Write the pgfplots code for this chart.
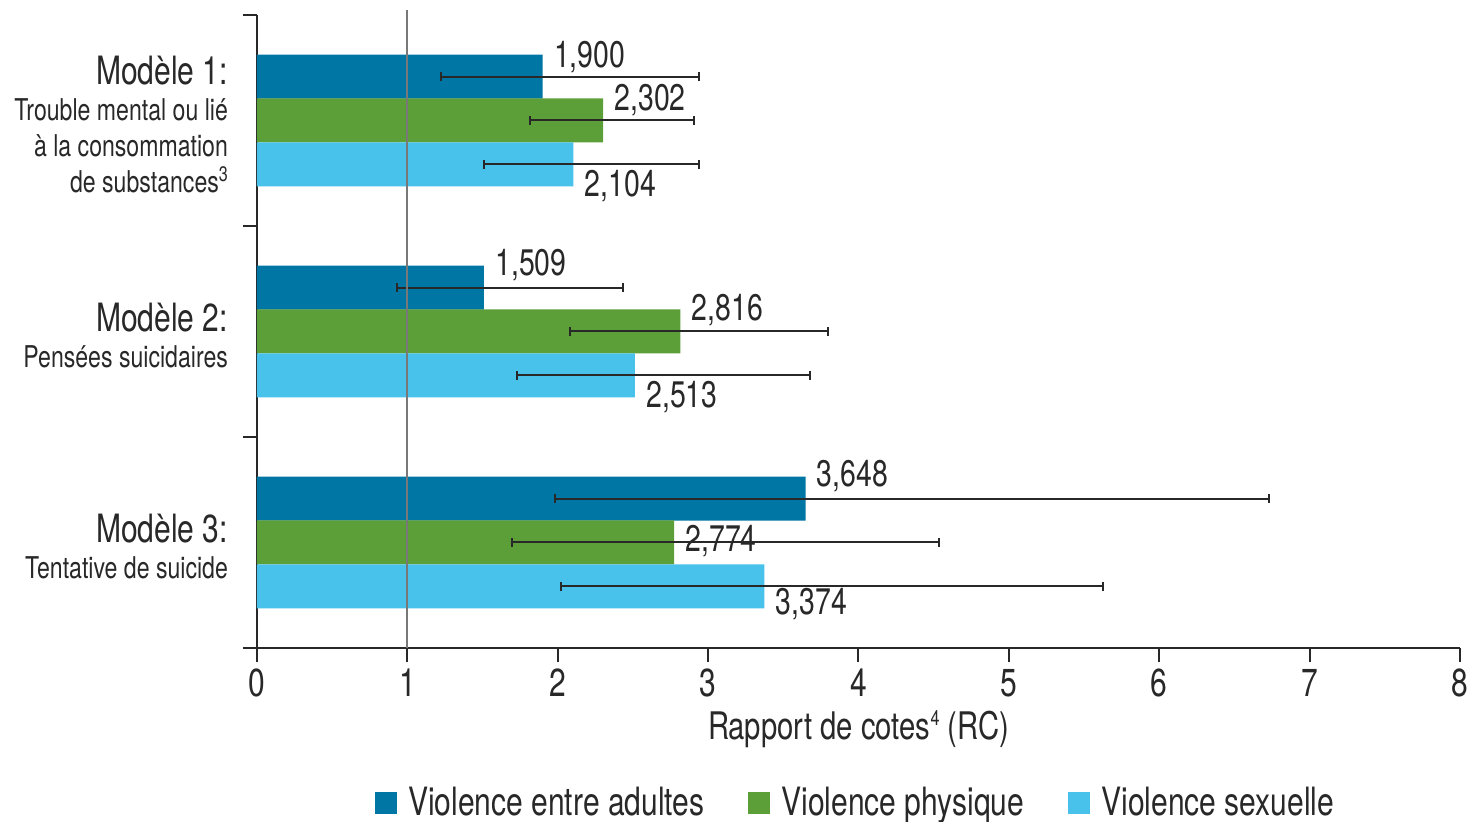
\documentclass[border=0pt]{standalone}
\usepackage{fontspec}
\setmainfont{TeX Gyre Heros}[FakeStretch=0.77]
\usepackage{pgfplots}
\usepackage{pgfplotstable}
\pgfplotsset{compat=1.18}
\definecolor{cA}{RGB}{0,118,164}
\definecolor{cB}{RGB}{92,159,56}
\definecolor{cC}{RGB}{72,194,235}
\definecolor{txt}{RGB}{40,40,40}
\definecolor{refl}{RGB}{120,120,120}
\newcommand{\smallsup}[1]{\raisebox{0.36em}{\fontsize{10.5}{10}\selectfont #1}}

\pgfplotstableread{
y v em ep
2.2075 1.900 0.677 1.039
1.2075 1.509 0.580 0.927
0.2075 3.648 1.667 3.082
}\adult
\pgfplotstableread{
y v em ep
2 2.302 0.487 0.604
1 2.816 0.735 0.978
0 2.774 1.075 1.762
}\phys
\pgfplotstableread{
y v em ep
1.7925 2.104 0.597 0.835
0.7925 2.513 0.786 1.164
-0.2075 3.374 1.351 2.251
}\sexu
\pgfplotstableread{
x y lab
1.900 2.300 1,900
2.302 2.095 2,302
2.104 1.690 2,104
1.509 1.313 1,509
2.816 1.100 2,816
2.513 0.690 2,513
3.648 0.313 3,648
2.774 0.005 2,774
3.374 -0.294 3,374
}\labels

\begin{document}
\begin{tikzpicture}[color=txt]
\begin{axis}[
  scale only axis, width=601.5pt, height=316.5pt,
  xmin=0, xmax=8, ymin=-0.5, ymax=2.5,
  clip=false,
  axis x line*=bottom, axis y line*=left,
  axis line style={-, line width=1pt, color=txt},
  xtick={0,1,2,3,4,5,6,7,8},
  tick align=outside,
  major tick length=7pt, minor tick length=7pt,
  tick style={line width=1pt, color=txt},
  ytick={0,1,2},
  minor ytick={-0.5,0.5,1.5,2.5},
  major y tick style={draw=none},
  yticklabels={
    {{\fontsize{19.5}{22}\selectfont Modèle 3:}\\Tentative de suicide},
    {{\fontsize{19.5}{22}\selectfont Modèle 2:}\\Pensées suicidaires},
    {{\fontsize{19.5}{22}\selectfont Modèle 1:}\\Trouble mental ou lié\\à la consommation\\de substances\smallsup{3}}
  },
  y tick label style={align=right, font=\fontsize{15}{18}\selectfont, xshift=-4pt, yshift=-2pt},
  x tick label style={font=\fontsize{19.5}{20}\selectfont},
  /pgf/number format/assume math mode=true,
  xlabel={Rapport de cotes\smallsup{4} (RC)},
  xlabel style={font=\fontsize{19}{20}\selectfont},
  legend style={at={(0.4985,-0.245)}, anchor=center, legend columns=3, draw=none, fill=none,
    font=\fontsize{19.5}{20}\selectfont,
    /tikz/every even column/.append style={column sep=20pt}},
]
\coordinate (O) at (rel axis cs:0,0);
\addplot[xbar, fill=cA, draw=none, bar width=0.2085,
  legend image code/.code={\fill[cA] (0pt,-5.5pt) rectangle (11pt,5.5pt); \path (14.5pt,0pt);},
  error bars/.cd, x dir=both, x explicit,
  error bar style={line width=1pt, color=txt},
  error mark options={rotate=90, mark size=2.2pt, line width=1pt, color=txt}]
  table[x=v, y=y, x error plus=ep, x error minus=em] {\adult};
\addlegendentry{Violence entre adultes}
\addplot[xbar, fill=cB, draw=none, bar width=0.2085,
  legend image code/.code={\fill[cB] (0pt,-5.5pt) rectangle (11pt,5.5pt); \path (14.5pt,0pt);},
  error bars/.cd, x dir=both, x explicit,
  error bar style={line width=1pt, color=txt},
  error mark options={rotate=90, mark size=2.2pt, line width=1pt, color=txt}]
  table[x=v, y=y, x error plus=ep, x error minus=em] {\phys};
\addlegendentry{Violence physique}
\addplot[xbar, fill=cC, draw=none, bar width=0.2085,
  legend image code/.code={\fill[cC] (0pt,-5.5pt) rectangle (11pt,5.5pt); \path (14.5pt,0pt);},
  error bars/.cd, x dir=both, x explicit,
  error bar style={line width=1pt, color=txt},
  error mark options={rotate=90, mark size=2.2pt, line width=1pt, color=txt}]
  table[x=v, y=y, x error plus=ep, x error minus=em] {\sexu};
\addlegendentry{Violence sexuelle}
\addplot[draw=none, forget plot, nodes near coords, point meta=explicit symbolic,
  nodes near coords style={anchor=west, xshift=5.5pt, inner sep=0pt, color=txt,
    font=\fontsize{18.5}{19}\selectfont}]
  table[x=x, y=y, meta=lab] {\labels};
\addplot[forget plot, color=refl, line width=1pt] coordinates {(1,-0.5) (1,2.524)};
\end{axis}
\pgfresetboundingbox
\path[use as bounding box] (O) ++(-128.5pt,-87pt) rectangle ++(734pt,411pt);
\end{tikzpicture}
\end{document}
